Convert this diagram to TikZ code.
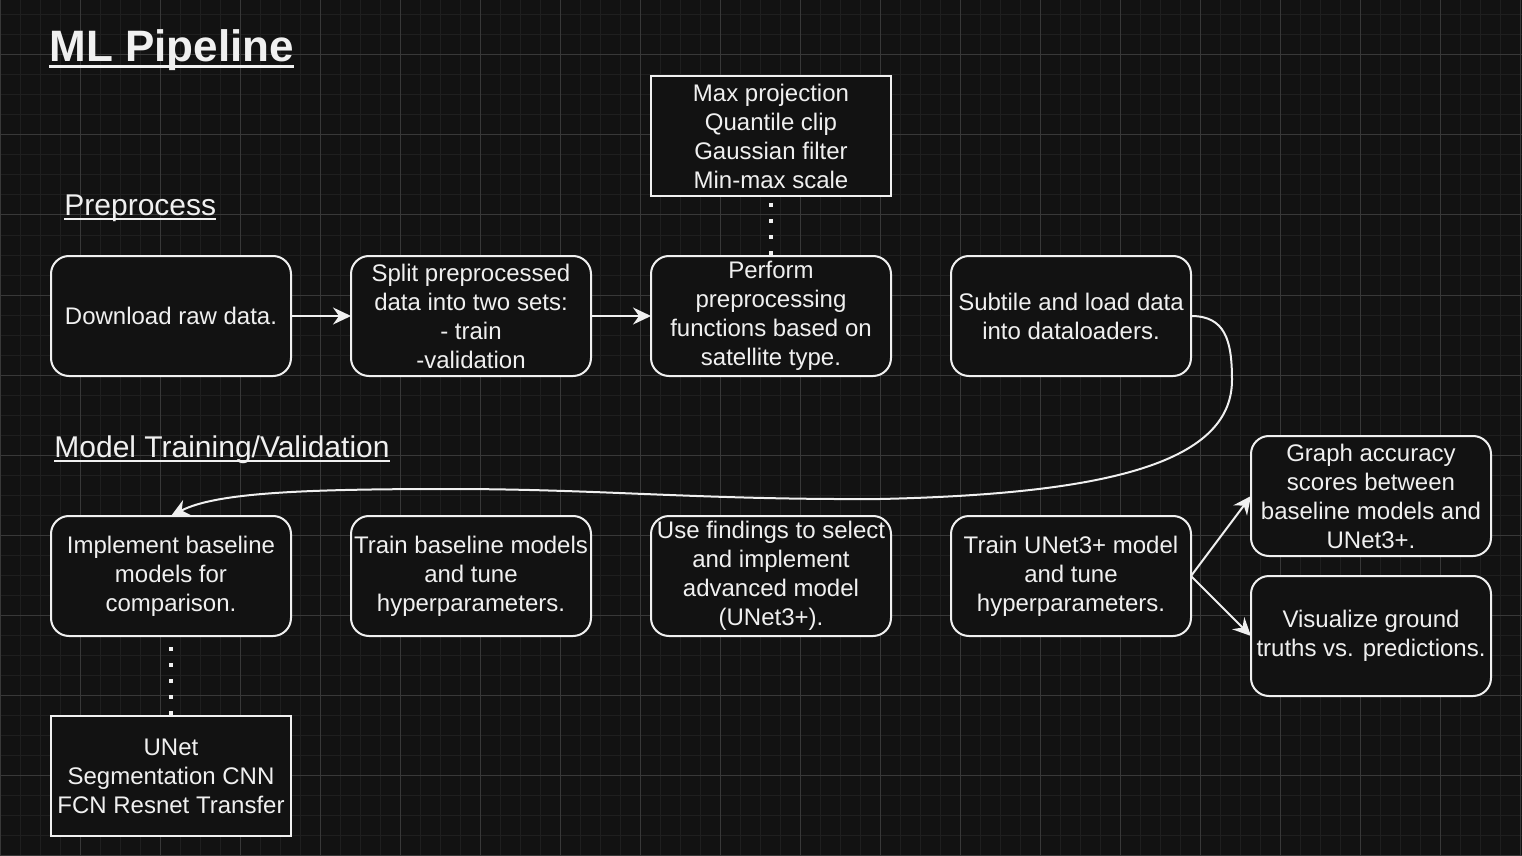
\documentclass[tikz,border=0pt]{standalone}
\usepackage{fontspec}
\setmainfont{Liberation Sans}
\usepackage{tikz}
\usetikzlibrary{arrows.meta, positioning}

\definecolor{canvas}{HTML}{121212}
\definecolor{gridminor}{HTML}{1F1F1F}
\definecolor{gridmajor}{HTML}{383838}
\definecolor{ink}{HTML}{F0F0F0}

% underlined heading text: #1 depth, #2 thickness, #3 text
\newcommand{\ulhead}[3]{\setbox0=\hbox{#3}\rlap{\rule[-#1]{\wd0}{#2}}\box0}

\begin{document}
\begin{tikzpicture}[x=0.5pt, y=-0.5pt,
    box/.style={draw=ink, fill=canvas, line width=1pt, rounded corners=9pt, minimum width=120pt, minimum height=60pt, inner sep=0pt, outer sep=0pt, align=center, text=ink, font=\fontsize{12}{14.5}\selectfont},
    listbox/.style={box, sharp corners},
    heading/.style={anchor=base west, inner sep=0pt, text=ink, font=\fontsize{15}{18}\selectfont},
    title/.style={heading, font=\fontsize{22}{26}\selectfont\bfseries},
    arrow/.style={draw=ink, line width=1pt, -{Stealth[length=9pt, width=8.5pt, inset=3pt]}},
    dotline/.style={draw=ink, line width=2pt, dash pattern=on 2pt off 6pt}
]

% Canvas and grid
\useasboundingbox (0,0) rectangle (1522,856);
\fill[canvas] (0,0) rectangle (1522,856);
\foreach \gx in {0,20,...,1520} \draw[gridminor, line width=0.5pt] (\gx,0) -- (\gx,856);
\foreach \gy in {15,35,...,855} \draw[gridminor, line width=0.5pt] (0,\gy) -- (1522,\gy);
\foreach \gx in {0,80,...,1520} \draw[gridmajor, line width=0.5pt] (\gx,0) -- (\gx,856);
\foreach \gy in {55,135,...,855} \draw[gridmajor, line width=0.5pt] (0,\gy) -- (1522,\gy);

% Headings
\node (mltitle) [title] at (49,62) {\ulhead{3.2pt}{1.6pt}{ML Pipeline}};
\node (prehead) [heading] at (64,215) {\ulhead{2.7pt}{1pt}{Preprocess}};
\node (trainhead) [heading] at (54,457) {\ulhead{2.7pt}{1pt}{Model Training/Validation}};

% Nodes
\node (download) [box] at (171,316) {Download raw data.};
\node (split) [box, right=30pt of download] {Split preprocessed\\data into two sets:\\- train\\-validation};
\node (perform) [box, right=30pt of split] {Perform\\preprocessing\\functions based on\\satellite type.};
\node (subtile) [box, right=30pt of perform] {Subtile and load data\\into dataloaders.};
\node (maxproj) [listbox, above=30pt of perform] {Max projection\\Quantile clip\\Gaussian filter\\Min-max scale};

\node (implement) [box, below=70pt of download] {Implement baseline\\models for\\comparison.};
\node (trainbase) [box, right=30pt of implement] {Train baseline models\\and tune\\hyperparameters.};
\node (findings) [box, right=30pt of trainbase] {Use findings to select\\and implement\\advanced model\\(UNet3+).};
\node (trainunet) [box, right=30pt of findings] {Train UNet3+ model\\and tune\\hyperparameters.};
\node (graph) [box, right=30pt of trainunet, yshift=40pt] {Graph accuracy\\scores between\\baseline models and\\UNet3+.};
\node (visual) [box, right=30pt of trainunet, yshift=-30pt] {Visualize ground\\truths vs. predictions.};
\node (unetlist) [listbox, below=40pt of implement] {UNet\\Segmentation CNN\\FCN Resnet Transfer};

% Edges
\draw [arrow] (download.east) -- (split.west);
\draw [arrow] (split.east) -- (perform.west);
\draw [dotline, dash phase=4.5pt] (maxproj.south) -- (perform.north);
\draw [arrow] (subtile.east) .. controls (1225,316) and (1232,340) .. (1232,380)
    .. controls (1232,465) and (1100,494) .. (880,499)
    .. controls (700,500) and (600,489) .. (450,489)
    .. controls (300,489) and (215,493) .. (implement.north);
\draw [dotline, dash phase=2.5pt] (implement.south) -- (unetlist.north);
\draw [arrow] (trainunet.east) -- (graph.west);
\draw [arrow] (trainunet.east) -- (visual.west);

\end{tikzpicture}
\end{document}
